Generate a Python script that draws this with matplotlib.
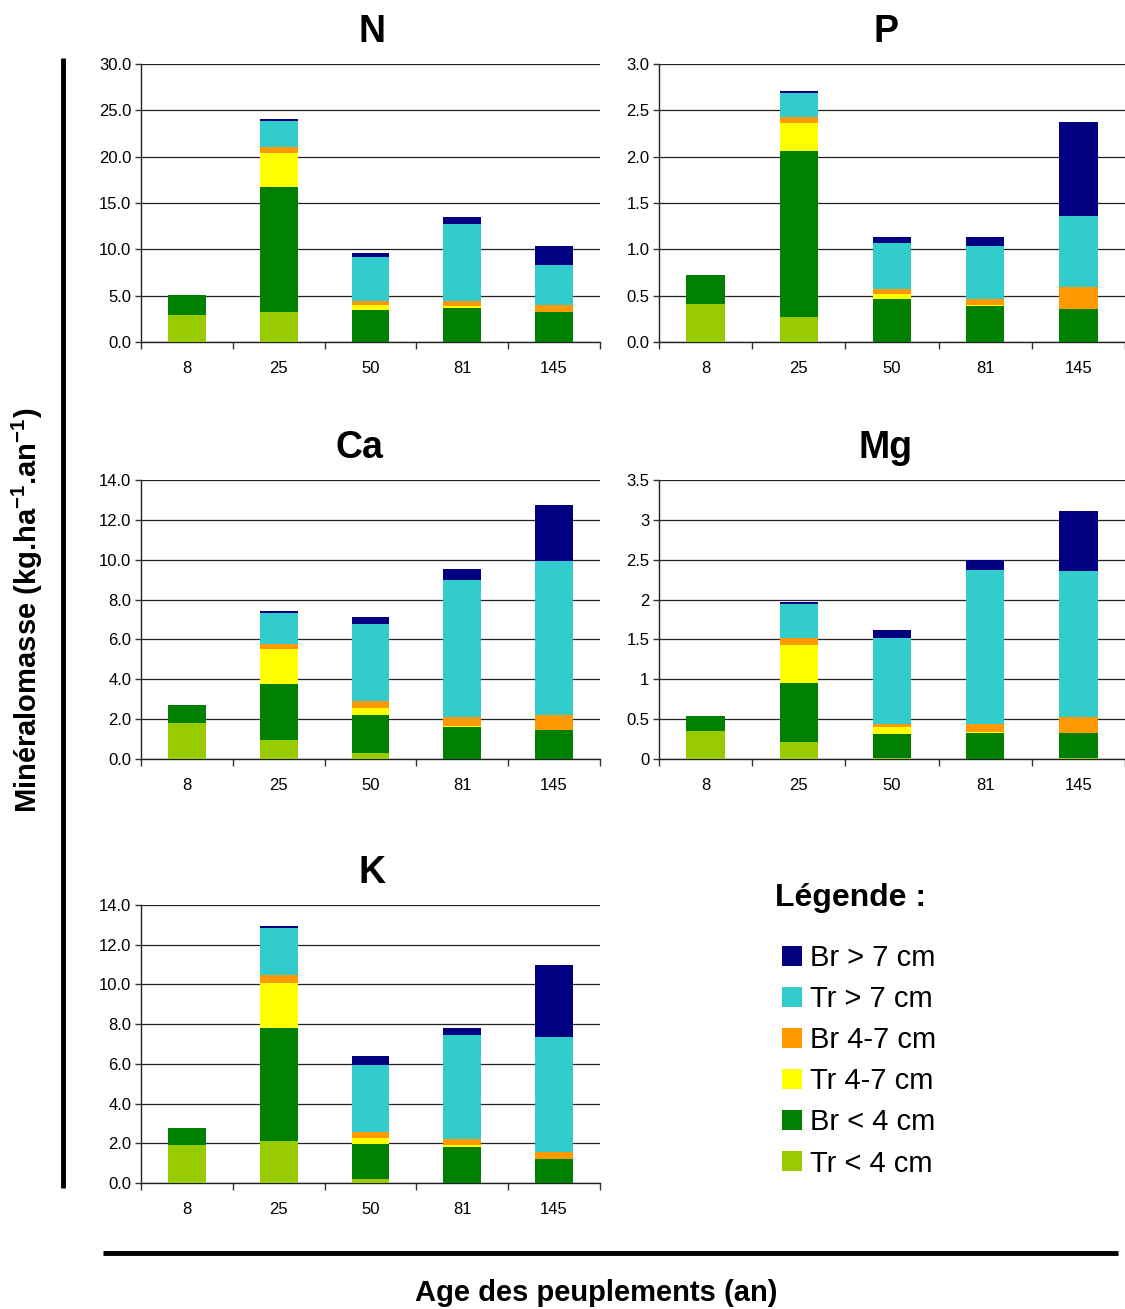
import matplotlib
matplotlib.use("Agg")
import matplotlib.pyplot as plt
import numpy as np
from matplotlib.lines import Line2D
from matplotlib.ticker import FixedLocator, FormatStrFormatter, NullFormatter

plt.rcParams['font.family'] = ['Liberation Sans', 'DejaVu Sans']
plt.rcParams['mathtext.fontset'] = 'custom'
plt.rcParams['mathtext.rm'] = 'Liberation Sans'
plt.rcParams['mathtext.bf'] = 'Liberation Sans:bold'

# ---------------- data ----------------
ages = ["8", "25", "50", "81", "145"]
components = ["Tr < 4 cm", "Br < 4 cm", "Tr 4-7 cm", "Br 4-7 cm", "Tr > 7 cm", "Br > 7 cm"]
colors = ["#99CC00", "#008000", "#FFFF00", "#FF9900", "#33CCCC", "#000080"]

# rows = components (bottom -> top), columns = ages
N_vals = [
    [2.95, 3.27, 0.00, 0.00, 0.00],
    [2.15, 13.47, 3.49, 3.70, 3.27],
    [0.00, 3.67, 0.53, 0.22, 0.00],
    [0.00, 0.65, 0.44, 0.46, 0.68],
    [0.00, 2.80, 4.74, 8.38, 4.39],
    [0.00, 0.21, 0.43, 0.75, 2.04],
]
P_vals = [
    [0.41, 0.27, 0.000, 0.000, 0.000],
    [0.31, 1.79, 0.467, 0.392, 0.360],
    [0.00, 0.30, 0.054, 0.010, 0.000],
    [0.00, 0.07, 0.047, 0.058, 0.237],
    [0.00, 0.255, 0.503, 0.578, 0.766],
    [0.00, 0.02, 0.064, 0.097, 1.013],
]
Ca_vals = [
    [1.81, 0.955, 0.30, 0.00, 0.00],
    [0.90, 2.81, 1.91, 1.61, 1.46],
    [0.00, 1.76, 0.35, 0.05, 0.00],
    [0.00, 0.23, 0.37, 0.47, 0.77],
    [0.00, 1.58, 3.85, 6.86, 7.73],
    [0.00, 0.10, 0.35, 0.56, 2.80],
]
Mg_vals = [
    [0.35, 0.21, 0.013, 0.000, 0.013],
    [0.19, 0.74, 0.300, 0.327, 0.314],
    [0.00, 0.48, 0.088, 0.012, 0.000],
    [0.00, 0.083, 0.038, 0.100, 0.205],
    [0.00, 0.43, 1.080, 1.933, 1.829],
    [0.00, 0.026, 0.100, 0.126, 0.753],
]
K_vals = [
    [1.91, 2.13, 0.20, 0.00, 0.00],
    [0.85, 5.66, 1.76, 1.81, 1.21],
    [0.00, 2.26, 0.30, 0.10, 0.00],
    [0.00, 0.40, 0.32, 0.30, 0.35],
    [0.00, 2.41, 3.35, 5.23, 5.78],
    [0.00, 0.10, 0.45, 0.35, 3.66],
]

N_yticks = [0, 5, 10, 15, 20, 25, 30]
P_yticks = [0, 0.5, 1.0, 1.5, 2.0, 2.5, 3.0]
Ca_yticks = [0, 2, 4, 6, 8, 10, 12, 14]
Mg_yticks = [0, 0.5, 1, 1.5, 2, 2.5, 3, 3.5]
K_yticks = [0, 2, 4, 6, 8, 10, 12, 14]

# ---------------- layout ----------------
W, H = 1125, 1309
fig = plt.figure(figsize=(W / 100, H / 100), dpi=100)


def fx(px):
    return px / W


def fy(py):
    return 1 - py / H


panels = [
    # title, values, yticks, fmt, (left, top, right, bottom) px, title x frac
    ("N", N_vals, N_yticks, "%.1f", (141, 64, 600, 342), 0.503),
    ("P", P_vals, P_yticks, "%.1f", (659, 64, 1125, 342), 0.487),
    ("Ca", Ca_vals, Ca_yticks, "%.1f", (141, 480, 600, 759), 0.476),
    ("Mg", Mg_vals, Mg_yticks, "%g", (659, 480, 1125, 759), 0.487),
    ("K", K_vals, K_yticks, "%.1f", (141, 905, 600, 1183), 0.503),
]

x = np.arange(len(ages))
bar_w = 0.41
handles = None
for title, vals, yt, fmt, (l, t, r, b), tx in panels:
    ax = fig.add_axes([fx(l), fy(b), (r - l) / W, (b - t) / H])
    bottom = np.zeros(len(ages))
    hs = []
    for comp, col, v in zip(components, colors, vals):
        v = np.array(v, dtype=float)
        h = ax.bar(x, v, bar_w, bottom=bottom, color=col, label=comp,
                   linewidth=0, zorder=3)
        hs.append(h)
        bottom += v
    handles = hs
    ax.set_xlim(-0.5, len(ages) - 0.5)
    ax.set_ylim(yt[0], yt[-1])
    ax.yaxis.set_major_locator(FixedLocator(yt))
    ax.yaxis.set_major_formatter(FormatStrFormatter(fmt))
    ax.xaxis.set_major_locator(FixedLocator(np.arange(-0.5, len(ages), 1.0)))
    ax.xaxis.set_major_formatter(NullFormatter())
    ax.xaxis.set_minor_locator(FixedLocator(x))
    ax.set_xticklabels(ages, minor=True)
    ax.tick_params(axis='x', which='major', length=5, width=1, direction='out', color='#333333')
    ax.tick_params(axis='x', which='minor', length=0, pad=14, labelsize=12)
    ax.tick_params(axis='y', which='major', length=4, width=1, direction='out', pad=3,
                   labelsize=12, color='#333333')
    ax.grid(axis='y', color='#222222', linewidth=0.9, zorder=1)
    ax.set_axisbelow(True)
    for s in ('top', 'right'):
        ax.spines[s].set_visible(False)
    for s in ('left', 'bottom'):
        ax.spines[s].set_color('#222222')
        ax.spines[s].set_linewidth(1.0)
    ax.set_title(title, fontsize=27, fontweight='bold', x=tx, pad=16)

# decorative axis lines
fig.add_artist(Line2D([fx(63), fx(63)], [fy(58), fy(1188)], color='black', linewidth=3.5,
                      solid_capstyle='butt'))
fig.add_artist(Line2D([fx(103), fx(1118)], [fy(1253), fy(1253)], color='black', linewidth=3.5,
                      solid_capstyle='butt'))

fig.text(fx(27), fy(610), r"Minéralomasse (kg.ha$^{\mathbf{-1}}$.an$^{\mathbf{-1}}$)",
         rotation=90, ha='center', va='center', fontsize=21, fontweight='bold')
fig.text(fx(596), fy(1293), "Age des peuplements (an)", ha='center', va='center',
         fontsize=21, fontweight='bold')

# legend
fig.text(fx(775), fy(898), "Légende :", ha='left', va='center', fontsize=23, fontweight='bold')
leg = fig.legend(handles[::-1], components[::-1], loc='upper left',
                 bbox_to_anchor=(fx(782), fy(944)), frameon=False, fontsize=21,
                 handlelength=0.68, handleheight=0.68,
                 handletextpad=0.27, labelspacing=0.45, borderpad=0, borderaxespad=0)

fig.savefig("out.png", dpi=100)
